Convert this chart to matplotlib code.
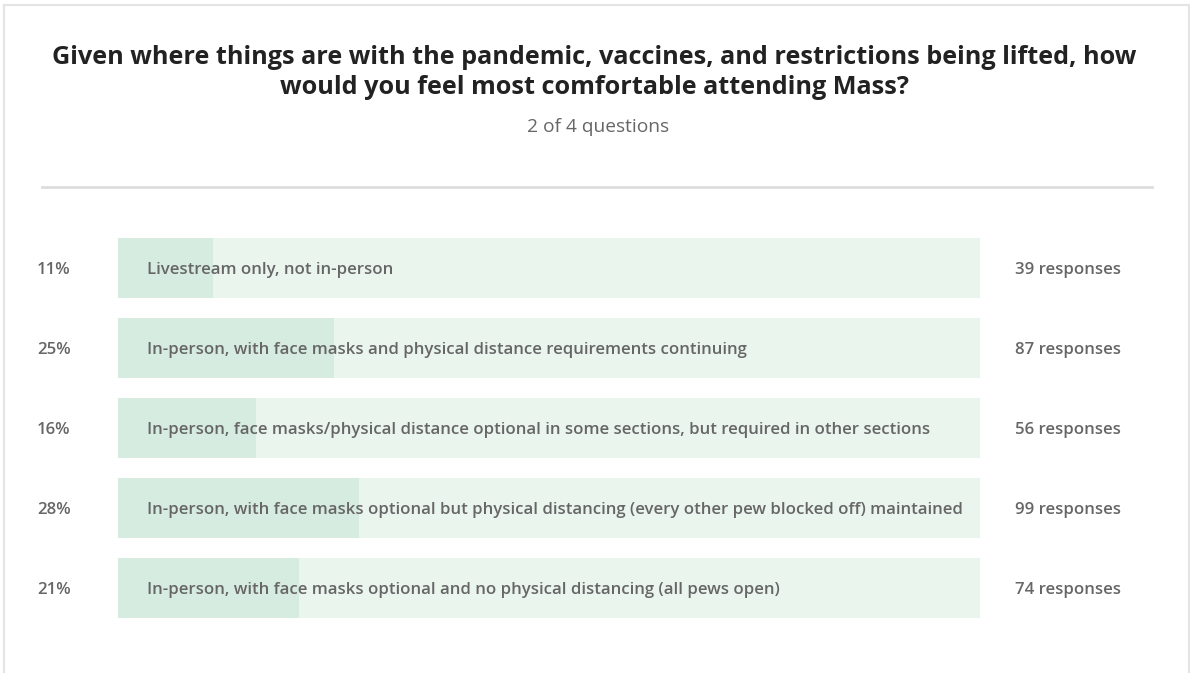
import matplotlib
matplotlib.use("Agg")
import matplotlib.pyplot as plt
from matplotlib import transforms
from matplotlib.lines import Line2D

title_lines = ["Given where things are with the pandemic, vaccines, and restrictions being lifted, how",
               "would you feel most comfortable attending Mass?"]
subtitle = "2 of 4 questions"
categories = [
    "Livestream only, not in-person",
    "In-person, with face masks and physical distance requirements continuing",
    "In-person, face masks/physical distance optional in some sections, but required in other sections",
    "In-person, with face masks optional but physical distancing (every other pew blocked off) maintained",
    "In-person, with face masks optional and no physical distancing (all pews open)",
]
percents = [11, 25, 16, 28, 21]
responses = [39, 87, 56, 99, 74]

W, H = 1190, 673
fig = plt.figure(figsize=(W / 100, H / 100), dpi=100)
fig.patch.set_facecolor("white")

FONT = "Open Sans"
TXT = "#666666"

# card border (top, left, right)
border = "#e4e4e4"
fig.add_artist(Line2D([4 / W, 4 / W], [0, 1 - 5 / H], transform=fig.transFigure, color=border, lw=1.5))
fig.add_artist(Line2D([4 / W, 1189 / W], [1 - 5 / H, 1 - 5 / H], transform=fig.transFigure, color=border, lw=1.5))
fig.add_artist(Line2D([1189 / W, 1189 / W], [0, 1 - 5 / H], transform=fig.transFigure, color=border, lw=1.5))

# title and subtitle
for ty, line in zip([57, 87], title_lines):
    fig.text(594 / W, 1 - ty / H, line, ha="center", va="center", fontsize=18.2,
             fontweight="bold", family=[FONT, "DejaVu Sans"], color="#222222")
fig.text(598 / W, 1 - 127 / H, subtitle, ha="center", va="center", fontsize=13.8,
         family=[FONT, "DejaVu Sans"], color=TXT)

# separator
fig.add_artist(Line2D([42 / W, 1152 / W], [1 - 187 / H, 1 - 187 / H], transform=fig.transFigure,
                      color="#dddddd", lw=2))

# bars axes
x0, x1 = 118, 980
top, bottom = 238, 618
ax = fig.add_axes([x0 / W, 1 - bottom / H, (x1 - x0) / W, (bottom - top) / H])
n = len(categories)
ax.set_xlim(0, 100)
ax.set_ylim(n - 1 + 0.375, -0.375)
ax.axis("off")
ys = list(range(n))
ax.barh(ys, [100] * n, height=0.75, left=0, color="#eaf5ee", linewidth=0)
ax.barh(ys, percents, height=0.75, left=0, color="#d7ece0", linewidth=0)

blend = transforms.blended_transform_factory(fig.transFigure, ax.transData)
off = transforms.ScaledTranslation(0, -2 / 100, fig.dpi_scale_trans)
FS = 12.1
for y, cat, p, r in zip(ys, categories, percents, responses):
    ax.text(37 / W, y, f"{p}%", transform=blend + off, ha="left", va="center", fontsize=FS,
            fontweight="semibold", family=[FONT, "DejaVu Sans"], color=TXT)
    ax.text(147 / W, y, cat, transform=blend + off, ha="left", va="center", fontsize=FS,
            fontweight="semibold", family=[FONT, "DejaVu Sans"], color=TXT)
    ax.text(1015 / W, y, f"{r} responses", transform=blend + off, ha="left", va="center", fontsize=FS,
            fontweight="semibold", family=[FONT, "DejaVu Sans"], color=TXT)

fig.savefig("out.png", dpi=100, facecolor="white")
